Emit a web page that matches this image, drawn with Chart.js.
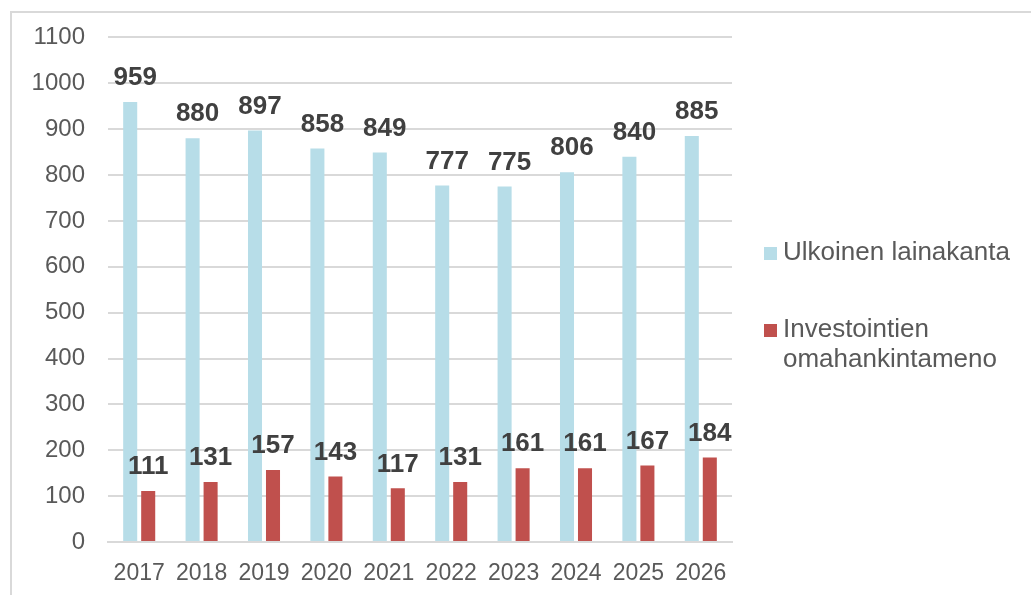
<!DOCTYPE html>
<html>
<head>
<meta charset="utf-8">
<script src="https://cdn.jsdelivr.net/npm/chart.js@4"></script>
<style>
  html, body { margin: 0; padding: 0; background: #fff; }
  #wrap { width: 1031px; height: 595px; position: relative; }
</style>
</head>
<body>
<div id="wrap"><canvas id="barChart" width="1031" height="595"></canvas></div>
<script>
const years = ["2017", "2018", "2019", "2020", "2021", "2022", "2023", "2024", "2025", "2026"];
const lainakanta = [959, 880, 897, 858, 849, 777, 775, 806, 840, 885];
const omahankinta = [111, 131, 157, 143, 117, 131, 161, 161, 167, 184];
const legendNames = [["Ulkoinen lainakanta"], ["Investointien", "omahankintameno"]];

const BLUE = "#b7dde8";
const RED = "#c0504d";

// frame, value labels and the legend on the right
const extras = {
    id: 'extras',
    beforeDraw(chart) {
        const c = chart.ctx;
        c.save();
        c.strokeStyle = "#d9d9d9";
        c.lineWidth = 2;
        c.beginPath();
        c.moveTo(11, 600);
        c.lineTo(11, 12);
        c.lineTo(1040, 12);
        c.stroke();
        c.restore();
    },
    afterDatasetsDraw(chart) {
        const c = chart.ctx;
        c.save();
        c.font = "bold 26px 'Liberation Sans', Arial, sans-serif";
        c.fillStyle = "#404040";
        c.textAlign = "center";
        c.textBaseline = "middle";
        chart.data.datasets.forEach((ds, i) => {
            const meta = chart.getDatasetMeta(i);
            meta.data.forEach((bar, j) => {
                const dx = i === 0 ? 5 : 0;
                c.fillText(ds.data[j], bar.x + dx, bar.y - 24);
            });
        });

        // legend
        c.font = "26px 'Liberation Sans', Arial, sans-serif";
        c.textAlign = "left";
        const rows = [253, 330];
        chart.data.datasets.forEach((ds, i) => {
            c.fillStyle = ds.backgroundColor;
            c.fillRect(764, rows[i] - 6, 13, 13);
            c.fillStyle = "#595959";
            legendNames[i].forEach((line, k) => {
                c.fillText(line, 783, rows[i] + k * 30);
            });
        });
        c.restore();
    }
};

const ctx = document.getElementById('barChart');
let barChart = new Chart(ctx, {
    type: 'bar',
    data: {
        labels: years,
        datasets: [
            {
                label: "Ulkoinen lainakanta",
                data: lainakanta,
                backgroundColor: BLUE,
                categoryPercentage: 0.577,
                barPercentage: 0.78,
            },
            {
                label: "Investointien omahankintameno",
                data: omahankinta,
                backgroundColor: RED,
                categoryPercentage: 0.577,
                barPercentage: 0.78,
            }
        ]
    },
    options: {
        responsive: false,
        animation: false,
        layout: { padding: { top: 35, right: 299, left: 0, bottom: 0 } },
        plugins: {
            legend: { display: false },
            tooltip: { enabled: false }
        },
        scales: {
            x: {
                grid: { display: false, drawTicks: false },
                border: { color: "#d9d9d9", width: 2 },
                ticks: {
                    color: "#595959",
                    font: { family: "'Liberation Sans', Arial, sans-serif", size: 23 },
                    padding: 18,
                    maxRotation: 0
                },
                afterFit(s) { s.height = 53; }
            },
            y: {
                min: 0,
                max: 1100,
                ticks: {
                    stepSize: 100,
                    color: "#595959",
                    font: { family: "'Liberation Sans', Arial, sans-serif", size: 24 },
                    padding: 23,
                    callback: v => String(v)
                },
                grid: { color: "#d9d9d9", lineWidth: 2, drawTicks: false },
                border: { display: false },
                afterFit(s) { s.width = 108; }
            }
        }
    },
    plugins: [extras]
});
</script>
</body>
</html>
